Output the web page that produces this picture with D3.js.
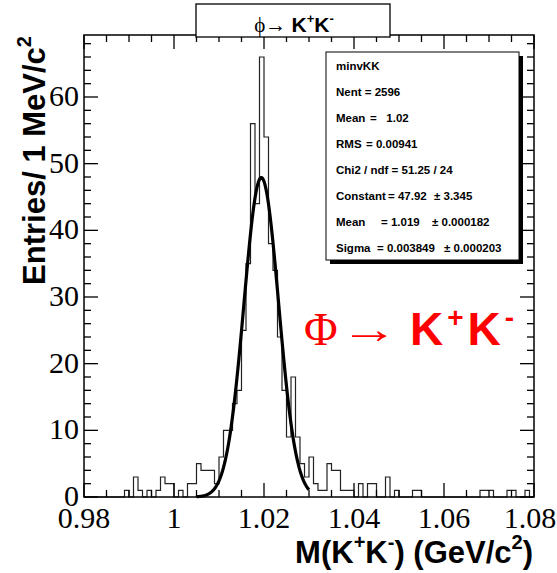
<!DOCTYPE html>
<html lang="en">
<head>
  <meta charset="UTF-8" />
  <title>phi -> K+K- invariant mass</title>
  <script src="https://d3js.org/d3.v7.min.js"></script>
  <style>
    body { margin: 0; padding: 0; background: #fff; }
    svg { display: block; }
    .tick-label { font-family: "Liberation Serif", "Times New Roman", serif; font-size: 30px; fill: #000; }
    .axis-title { font-family: "Liberation Sans", Arial, sans-serif; font-weight: bold; font-size: 31px; fill: #000; }
    .stats text { font-family: "Liberation Sans", Arial, sans-serif; font-weight: bold; font-size: 11.5px; fill: #000; white-space: pre; }
  </style>
</head>
<body>
<div id="chart"></div>
<script>
  // ---------------------------------------------------------------
  // Data: histogram minvKK, 1 MeV bins from 0.98 to 1.08 GeV
  // ---------------------------------------------------------------
  const binLow = 0.98;
  const binWidth = 0.001;
  const counts = [
    0, 0, 0, 0, 0, 0, 0, 0, 0, 1,     // 0.980 - 0.990
    0, 3, 1, 0, 1, 0, 1, 3, 2, 2,     // 0.990 - 1.000
    0, 1, 0, 2, 2, 5, 4, 4, 4, 2,     // 1.000 - 1.010
    6, 10, 10, 14, 16, 25, 35, 56, 44, 66,  // 1.010 - 1.020
    54, 38, 34, 24, 16, 9, 18, 9, 5, 3,     // 1.020 - 1.030
    6, 2, 1, 1, 5, 4, 4, 1, 1, 1,     // 1.030 - 1.040
    0, 2, 0, 2, 2, 0, 0, 3, 0, 1,     // 1.040 - 1.050
    0, 0, 0, 1, 1, 0, 0, 0, 0, 0,     // 1.050 - 1.060
    0, 0, 0, 0, 0, 0, 0, 0, 1, 1,     // 1.060 - 1.070
    1, 0, 0, 0, 1, 1, 0, 0, 1, 0      // 1.070 - 1.080
  ];

  // Gaussian fit shown in the stats box
  const fitConstant = 47.92;
  const fitMean = 1.0194;
  const fitSigma = 0.003849;
  const fitRange = [1.005, 1.030];

  // Axis ticks
  const xMajorTicks = [0.98, 1.00, 1.02, 1.04, 1.06, 1.08];
  const xTickLabels = ["0.98", "1", "1.02", "1.04", "1.06", "1.08"];
  const yMajorTicks = [0, 10, 20, 30, 40, 50, 60];

  // Stats box rows: label, "= value", "± error"
  const statLabels = ["minvKK", "Nent = 2596", "Mean", "RMS", "Chi2 / ndf = 51.25 / 24", "Constant", "Mean", "Sigma"];
  const statValues = ["", "", "=   1.02", "= 0.00941", "", "= 47.92", "= 1.019", "= 0.003849"];
  const statErrors = ["", "", "", "", "", "\u00b1 3.345", "\u00b1 0.000182", "\u00b1 0.000203"];

  // ---------------------------------------------------------------
  // Layout
  // ---------------------------------------------------------------
  const width = 557, height = 573;
  const frame = { left: 84, right: 534, top: 35, bottom: 497 };
  const yMax = 69.3;

  const svg = d3.select("#chart").append("svg")
    .attr("width", width)
    .attr("height", height);

  const x = d3.scaleLinear().domain([0.98, 1.08]).range([frame.left, frame.right]);
  const y = d3.scaleLinear().domain([0, yMax]).range([frame.bottom, frame.top]);

  // ---------------------------------------------------------------
  // Histogram outline (step line)
  // ---------------------------------------------------------------
  const stepPts = [[binLow, 0]];
  counts.forEach((c, i) => {
    const lo = binLow + i * binWidth;
    stepPts.push([lo, c], [lo + binWidth, c]);
  });
  stepPts.push([binLow + counts.length * binWidth, 0]);

  const line = d3.line().x(d => x(d[0])).y(d => y(d[1]));

  svg.append("path")
    .attr("d", line(stepPts))
    .attr("fill", "none")
    .attr("stroke", "#222")
    .attr("stroke-width", 1.2);

  // ---------------------------------------------------------------
  // Gaussian fit curve
  // ---------------------------------------------------------------
  const fitPts = d3.range(fitRange[0], fitRange[1] + 1e-9, 0.0002).map(m =>
    [m, fitConstant * Math.exp(-0.5 * Math.pow((m - fitMean) / fitSigma, 2))]);

  svg.append("path")
    .attr("d", line(fitPts))
    .attr("fill", "none")
    .attr("stroke", "#000")
    .attr("stroke-width", 3.2)
    .attr("stroke-linejoin", "round");

  // ---------------------------------------------------------------
  // Frame and ticks (ticks on all four sides, pointing inward)
  // ---------------------------------------------------------------
  const majLen = 14, minLen = 7;
  const axisG = svg.append("g").attr("stroke", "#000").attr("stroke-width", 1.3);

  const xMinor = d3.range(0.98, 1.08 + 1e-9, 0.005);
  xMinor.forEach(v => {
    const isMajor = Math.abs(Math.round(v * 50) - v * 50) < 1e-6;
    const len = isMajor ? majLen : minLen;
    axisG.append("line").attr("x1", x(v)).attr("x2", x(v))
      .attr("y1", frame.bottom).attr("y2", frame.bottom - len);
    axisG.append("line").attr("x1", x(v)).attr("x2", x(v))
      .attr("y1", frame.top).attr("y2", frame.top + len);
  });

  const yMinor = d3.range(0, yMax, 2);
  yMinor.forEach(v => {
    const len = v % 10 === 0 ? majLen : minLen;
    axisG.append("line").attr("x1", frame.left).attr("x2", frame.left + len)
      .attr("y1", y(v)).attr("y2", y(v));
    axisG.append("line").attr("x1", frame.right).attr("x2", frame.right - len)
      .attr("y1", y(v)).attr("y2", y(v));
  });

  svg.append("rect")
    .attr("x", frame.left).attr("y", frame.top)
    .attr("width", frame.right - frame.left)
    .attr("height", frame.bottom - frame.top)
    .attr("fill", "none").attr("stroke", "#000").attr("stroke-width", 1.5);

  // tick labels (last one kept inside the page)
  svg.selectAll(".xlab").data(xMajorTicks).enter().append("text")
    .attr("class", "tick-label")
    .attr("x", d => Math.min(x(d), width - 27)).attr("y", 528)
    .attr("text-anchor", "middle")
    .text((d, i) => xTickLabels[i]);

  svg.selectAll(".ylab").data(yMajorTicks).enter().append("text")
    .attr("class", "tick-label")
    .attr("x", 79).attr("y", d => y(d) + 9)
    .attr("text-anchor", "end")
    .text(d => d);

  // ---------------------------------------------------------------
  // Axis titles
  // ---------------------------------------------------------------
  const xt = svg.append("text").attr("class", "axis-title")
    .attr("x", 533).attr("y", 563).attr("text-anchor", "end");
  xt.append("tspan").text("M(K");
  xt.append("tspan").attr("font-size", 20).attr("dy", -14).text("+");
  xt.append("tspan").attr("dy", 14).text("K");
  xt.append("tspan").attr("font-size", 20).attr("dy", -14).text("-");
  xt.append("tspan").attr("dy", 14).text(") (GeV/c");
  xt.append("tspan").attr("font-size", 20).attr("dy", -14).text("2");
  xt.append("tspan").attr("dy", 14).text(")");

  const yt = svg.append("text").attr("class", "axis-title")
    .attr("transform", "translate(45,36) rotate(-90)")
    .attr("text-anchor", "end");
  yt.append("tspan").text("Entries/ 1 MeV/c");
  yt.append("tspan").attr("font-size", 20).attr("dy", -14).text("2");

  // ---------------------------------------------------------------
  // Title box
  // ---------------------------------------------------------------
  svg.append("rect")
    .attr("x", 196).attr("y", 4).attr("width", 194).attr("height", 33)
    .attr("fill", "#fff").attr("stroke", "#000").attr("stroke-width", 1.3);
  const tt = svg.append("text").attr("x", 294).attr("y", 32)
    .attr("text-anchor", "middle")
    .attr("font-family", "Liberation Sans, Arial, sans-serif")
    .attr("font-weight", "bold").attr("font-size", 21);
  tt.append("tspan").attr("font-family", "Liberation Serif, serif").attr("font-weight", "normal").text("\u03d5\u2192 ");
  tt.append("tspan").text("K");
  tt.append("tspan").attr("font-size", 13).attr("dy", -9).text("+");
  tt.append("tspan").attr("dy", 9).text("K");
  tt.append("tspan").attr("font-size", 13).attr("dy", -9).text("-");

  // ---------------------------------------------------------------
  // Stats box
  // ---------------------------------------------------------------
  const sb = { x: 326, y: 52, w: 193, h: 208 };
  const valX = [0, 0, 370, 366, 0, 388, 381, 377];
  const errX = [0, 0, 0, 0, 0, 434, 432, 444];
  const stats = svg.append("g").attr("class", "stats");
  stats.append("rect").attr("x", sb.x + 4).attr("y", sb.y + 4)
    .attr("width", sb.w).attr("height", sb.h).attr("fill", "#000");
  stats.append("rect").attr("x", sb.x).attr("y", sb.y)
    .attr("width", sb.w).attr("height", sb.h)
    .attr("fill", "#fff").attr("stroke", "#000").attr("stroke-width", 1);
  statLabels.forEach((s, i) => {
    const ty = sb.y + sb.h / statLabels.length * (i + 0.5) + 5;
    stats.append("text").attr("x", sb.x + 10).attr("y", ty).text(s);
    if (statValues[i]) {
      stats.append("text").attr("x", valX[i]).attr("y", ty)
        .attr("xml:space", "preserve").text(statValues[i]);
    }
    if (statErrors[i]) {
      stats.append("text").attr("x", errX[i]).attr("y", ty).text(statErrors[i]);
    }
  });

  // ---------------------------------------------------------------
  // Red annotation
  // ---------------------------------------------------------------
  const redFont = "Liberation Sans, Arial, sans-serif";
  svg.append("text").attr("x", 304).attr("y", 345)
    .attr("fill", "#f00").attr("font-family", "Liberation Serif, serif")
    .attr("font-size", 46).text("\u03a6");
  svg.append("text").attr("x", 340).attr("y", 343)
    .attr("fill", "#f00").attr("font-family", "Liberation Serif, serif")
    .attr("font-size", 40)
    .attr("textLength", 58).attr("lengthAdjust", "spacingAndGlyphs")
    .text("\u2192");
  const red = svg.append("text").attr("x", 410).attr("y", 345)
    .attr("fill", "#f00").attr("font-family", redFont)
    .attr("font-weight", "bold").attr("font-size", 46)
    .attr("letter-spacing", 4);
  red.append("tspan").text("K");
  red.append("tspan").attr("font-size", 28).attr("dy", -18).text("+");
  red.append("tspan").attr("dy", 18).text("K");
  red.append("tspan").attr("font-size", 28).attr("dy", -18).text("-");
</script>
</body>
</html>
